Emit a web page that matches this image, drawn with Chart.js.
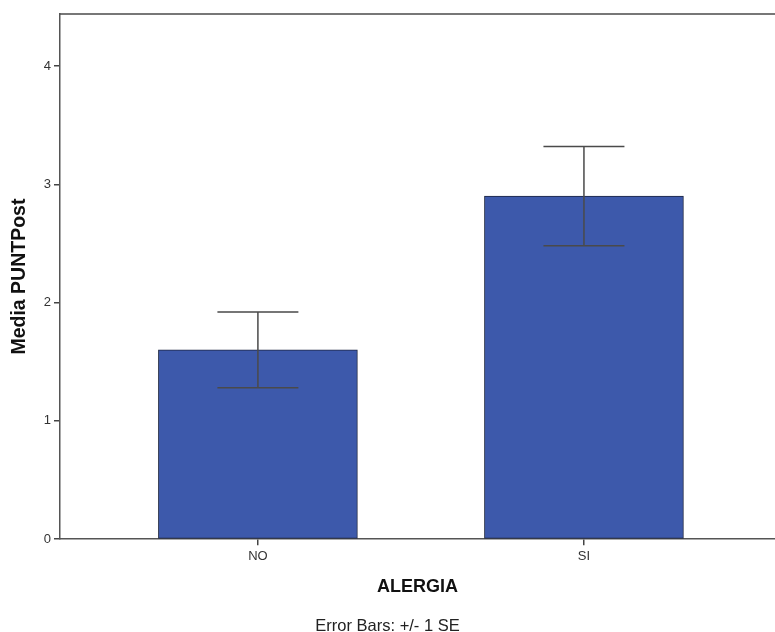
<!DOCTYPE html>
<html>
<head>
<meta charset="utf-8">
<script src="https://cdn.jsdelivr.net/npm/chart.js@4"></script>
<style>
  html, body { margin: 0; padding: 0; background: #fff; overflow: hidden; }
  #wrap { width: 775px; height: 632px; overflow: hidden; }
</style>
</head>
<body>
<div id="wrap"><canvas id="c" width="775" height="636"></canvas></div>
<script>
// chart values
const categories = ['NO', 'SI'];
const means = [1.6, 2.9];
const errLow = [1.28, 2.48];
const errHigh = [1.92, 3.32];
const yTicks = [0, 1, 2, 3, 4];

// draw the +/- 1 SE whiskers and the frame top line
const errorBars = {
  id: 'errorBars',
  afterDatasetsDraw(chart) {
    const ctx = chart.ctx;
    const xs = chart.scales.x, ys = chart.scales.y;
    ctx.save();
    ctx.strokeStyle = '#4a4a4a';
    ctx.lineWidth = 1.5;
    categories.forEach((c, i) => {
      const x = xs.getPixelForValue(i);
      const top = ys.getPixelForValue(errHigh[i]);
      const bot = ys.getPixelForValue(errLow[i]);
      ctx.beginPath();
      ctx.moveTo(x, top); ctx.lineTo(x, bot);
      ctx.moveTo(x - 40.5, top); ctx.lineTo(x + 40.5, top);
      ctx.moveTo(x - 40.5, bot); ctx.lineTo(x + 40.5, bot);
      ctx.stroke();
    });
    const a = chart.chartArea;
    ctx.beginPath();
    ctx.moveTo(a.left, a.top); ctx.lineTo(a.right, a.top);
    ctx.stroke();
    ctx.restore();
  }
};

new Chart(document.getElementById('c'), {
  type: 'bar',
  data: {
    datasets: [{
      data: categories.map((c, i) => ({ x: i, y: means[i] })),
      backgroundColor: '#3d59ab',
      borderColor: '#1c2540',
      borderWidth: 1,
      borderSkipped: false,
      barThickness: 199
    }]
  },
  options: {
    responsive: false,
    animation: false,
    layout: { padding: { top: 14, right: 0, left: 0, bottom: 0 } },
    plugins: {
      legend: { display: false },
      tooltip: { enabled: false },
      title: {
        display: true,
        position: 'bottom',
        text: 'Error Bars: +/- 1 SE',
        color: '#222',
        font: { family: 'Liberation Sans, Arial', size: 16.5, weight: 'normal' },
        padding: { top: 0, bottom: 0 }
      }
    },
    scales: {
      x: {
        type: 'linear',
        offset: false,
        min: -0.607,
        max: 1.586,
        afterBuildTicks: s => { s.ticks = categories.map((c, i) => ({ value: i })); },
        afterFit: s => { s.height = 77; },
        ticks: {
          callback: v => categories[v],
          color: '#333',
          font: { family: 'Liberation Sans, Arial', size: 13 },
          padding: 3,
          maxRotation: 0
        },
        grid: { offset: false, drawOnChartArea: false, tickLength: 6, color: '#444', lineWidth: 1.5 },
        border: { color: '#555', width: 1.5 },
        title: {
          display: true,
          text: 'ALERGIA',
          color: '#111',
          font: { family: 'Liberation Sans, Arial', size: 18, weight: 'bold' },
          padding: { top: 0, bottom: 18 }
        }
      },
      y: {
        min: 0,
        max: 4.44,
        afterBuildTicks: s => { s.ticks = yTicks.map(v => ({ value: v })); },
        afterFit: s => { s.width = 60; },
        ticks: {
          color: '#333',
          font: { family: 'Liberation Sans, Arial', size: 13 },
          padding: 3
        },
        grid: { drawOnChartArea: false, tickLength: 6, color: '#444', lineWidth: 1.5 },
        border: { color: '#555', width: 1.5 },
        title: {
          display: true,
          text: 'Media PUNTPost',
          color: '#111',
          font: { family: 'Liberation Sans, Arial', size: 19.5, weight: 'bold' },
          padding: { top: 8, bottom: 0 }
        }
      }
    }
  },
  plugins: [errorBars]
});
</script>
</body>
</html>
